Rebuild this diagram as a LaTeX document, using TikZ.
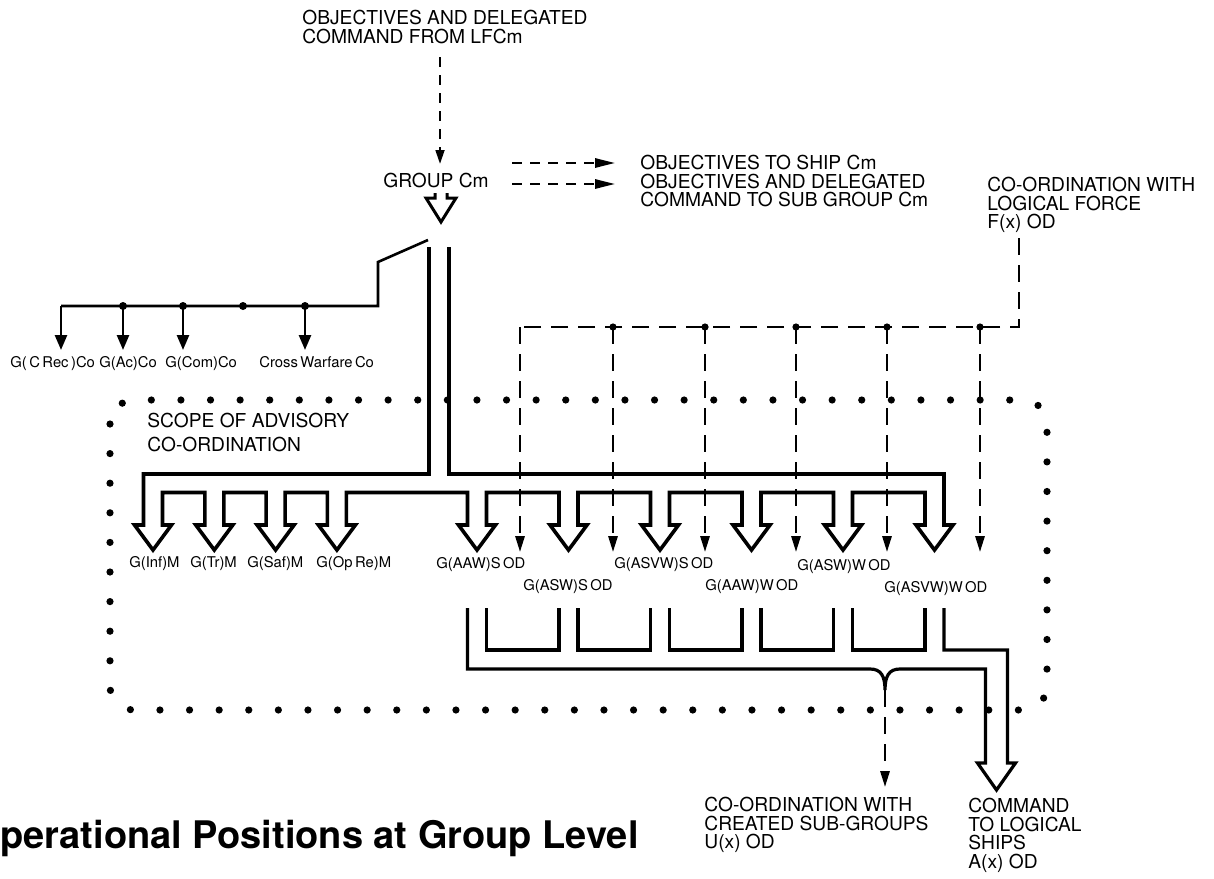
\documentclass[tikz,border=0pt]{standalone}
\usepackage{fontspec}
\setmainfont{TeX Gyre Heros}
\newfontfamily\lblfont{TeX Gyre Heros}[WordSpace=0.6]
\usetikzlibrary{arrows.meta}
\tikzset{
  big/.style={font=\fontsize{9.6}{9.3}\selectfont,inner sep=0pt,align=left,anchor=north west},
  sml/.style={font=\lblfont\fontsize{7.4}{8}\selectfont,inner sep=0pt,anchor=base west},
  pipe/.style={line width=1.8pt,line join=miter},
  wire/.style={line width=1.3pt},
  dsh/.style={line width=1.2pt,dash pattern=on 8.5pt off 5pt},
  dar/.style={dsh,-{Triangle[length=8pt,width=4.6pt]}},
  sdar/.style={line width=1.15pt,dash pattern=on 5pt off 4pt,-{Triangle[length=7pt,width=4.4pt]}},
  sar/.style={wire,-{Triangle[length=7.5pt,width=6pt]}},
  scopedots/.style={line width=3.6pt,line cap=round,dash pattern=on 0pt off 14.8pt,rounded corners=12pt}
}
\begin{document}
\begin{tikzpicture}[x=0.5pt,y=-0.5pt]
\useasboundingbox (0,0) rectangle (1214,878);
% scope of advisory co-ordination
\draw[scopedots] (110,400) rectangle (1047,710);
\node[big,font=\fontsize{9.6}{12}\selectfont] (scope) at (147,413) {SCOPE OF ADVISORY\\CO-ORDINATION};
% group command
\node[big] (lfcm) at (302,10) {OBJECTIVES AND DELEGATED\\COMMAND FROM LFCm};
\node[big] (grp) at (383,173) {GROUP Cm};
\node[big] (sub) at (640,155) {OBJECTIVES TO SHIP Cm\\OBJECTIVES AND DELEGATED\\COMMAND TO SUB GROUP Cm};
\node[big] (lf) at (987,177) {CO-ORDINATION WITH\\LOGICAL FORCE\\F(x) OD};
\coordinate (lfcmfoot) at (440,57);
\coordinate (ship) at (512,163);
\coordinate (subg) at (512,184);
\draw[sdar,shorten >=4.5pt] (lfcmfoot) -- (lfcmfoot |- grp.north);
\draw[sdar,-{Triangle[length=10pt,width=4.6pt]},shorten >=12.5pt] (ship) -- (ship -| sub.west);
\draw[sdar,-{Triangle[length=10pt,width=4.6pt]},shorten >=12.5pt] (subg) -- (subg -| sub.west);
\draw[line width=1.5pt,line join=miter] (435,193) -- (435,198) -- (426,198) -- (441,222) -- (456,198) -- (447,198) -- (447,193);
% co-ordinators
\draw[wire] (428,240) -- (378,262) -- (378,306) -- (61,306);
\foreach \x in {123,183,243,305} \fill (\x,306) circle (2pt);
\foreach \x in {61,123,183,305} \draw[sar] (\x,306) -- (\x,350);
\node[sml] (crec) at (10,367) {G( C Rec )Co};
\node[sml] (ac) at (99,367) {G(Ac)Co};
\node[sml] (com) at (165,367) {G(Com)Co};
\node[sml] (cross) at (259,367) {Cross Warfare Co};
% logical force co-ordination
\coordinate (lfoot) at (1019,238);
\coordinate (lcorner) at (1019,327);
\draw[dsh] (lfoot) -- (lcorner) -- (520,327);
\foreach \x in {613,705,796,887,980} \fill (\x,327) circle (1.8pt);
\foreach \x in {520,613,705,796,887,980} \draw[dar] (\x,327) -- (\x,552);
% command channel
\draw[pipe] (429,247) -- (429,474) -- (143.5,474)
  \foreach \c in {153,214.3,275.6,336.9,477,568.5,660,751.5,843,934.5}{
    -- (\c-9.5,492.5) -- (\c-9.5,525) -- (\c-18.5,525) -- (\c,550)
    -- (\c+18.5,525) -- (\c+9.5,525) -- (\c+9.5,492.5)}
  -- (944,474) -- (449,474) -- (449,247);
\node[sml] (inf) at (129,567) {G(Inf)M};
\node[sml] (tr) at (190,567) {G(Tr)M};
\node[sml] (saf) at (247,567) {G(Saf)M};
\node[sml] (opre) at (316,567) {G(Op Re)M};
\node[sml] (aaws) at (436,568) {G(AAW)S OD};
\node[sml] (asws) at (523,590) {G(ASW)S OD};
\node[sml] (asvws) at (614,568) {G(ASVW)S OD};
\node[sml] (aaww) at (705,590) {G(AAW)W OD};
\node[sml] (asww) at (797,570) {G(ASW)W OD};
\node[sml] (asvww) at (884,592) {G(ASVW)W OD};
% onward to sub-groups and ships
\foreach \a/\b in {477/568.5,568.5/660,660/751.5,751.5/843,843/934.5}
  \draw[pipe,line width=1.6pt] (\a+9.5,608) -- (\a+9.5,650) -- (\b-9.5,650) -- (\b-9.5,608);
\coordinate (brace) at (885,690);
\draw[pipe,line width=1.6pt] (467.5,608) -- (467.5,669) -- (870,669)
  .. controls (881,669) and (885,676) .. (brace)
  .. controls (885,676) and (889,669) .. (900,669)
  -- (985.5,669) -- (985.5,763) -- (977.5,763) -- (996.5,790) -- (1015.5,763)
  -- (1007.5,763) -- (1007.5,650) -- (944,650) -- (944,608);
\node[big] (ux) at (704,797) {CO-ORDINATION WITH\\CREATED SUB-GROUPS\\U(x) OD};
\node[big] (ax) at (968,798) {COMMAND\\TO LOGICAL\\SHIPS\\A(x) OD};
\draw[dar,shorten >=5pt] (brace) -- (brace |- ux.north);
\node[font=\fontsize{19}{20}\selectfont\bfseries,inner sep=0pt,anchor=base west] (title) at (0,848) {perational Positions at Group Level};
\end{tikzpicture}
\end{document}
